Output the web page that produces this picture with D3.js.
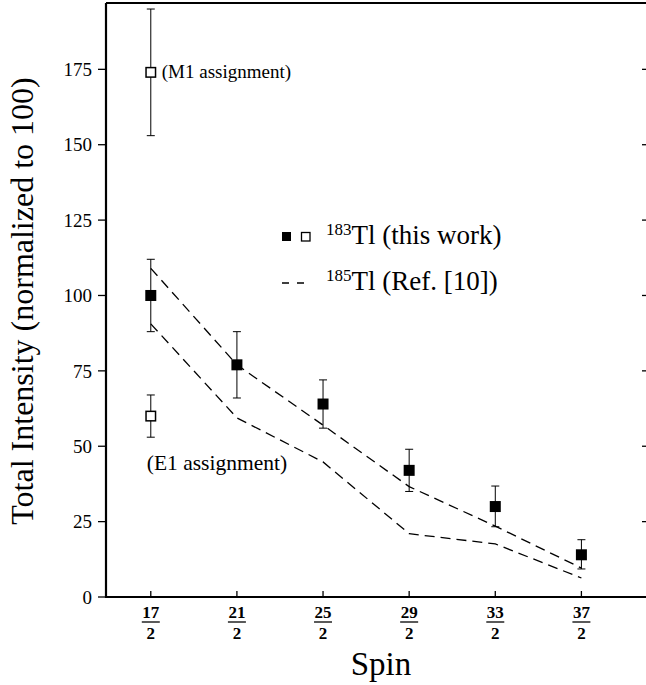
<!DOCTYPE html>
<html>
<head>
<meta charset="utf-8">
<script src="https://cdn.jsdelivr.net/npm/d3@7"></script>
</head>
<body style="margin:0;background:#fff">
<div id="chart"></div>
<script>
"use strict";
const WIDTH = 646;
const HEIGHT = 685;
const MARGIN = { top: 3, right: 0, bottom: 88, left: 106 };

// spin numerators (spin = n / 2)
const SPINS = [17, 21, 25, 29, 33, 37];
const Y_TICKS = [0, 25, 50, 75, 100, 125, 150, 175];

// 183Tl (this work), filled squares
const TL183 = [100, 77, 64, 42, 30, 14];
const TL183_LO = [88, 66, 56, 35, 23.3, 9.3];
const TL183_HI = [112, 88, 72, 49, 36.8, 19];

// open squares at 17/2: M1 and E1 assignments
const OPEN_SPIN = [17, 17];
const OPEN_VAL = [174, 60];
const OPEN_LO = [153, 53];
const OPEN_HI = [195, 67];
const OPEN_LABELS = ["(M1 assignment)", "(E1 assignment)"];

// 185Tl (Ref. [10]) dashed band
const TL185_UPPER = [109, 77, 57, 36.6, 23.5, 9.6];
const TL185_LOWER = [90.6, 59.4, 44.8, 21, 17.6, 6.3];

const svg = d3.select("#chart").append("svg")
    .attr("width", WIDTH)
    .attr("height", HEIGHT)
    .style("font-family", '"Liberation Serif", serif');

const x = d3.scaleLinear()
    .domain([14.92, 40])
    .range([MARGIN.left, WIDTH - MARGIN.right]);

const y = d3.scaleLinear()
    .domain([0, 197])
    .range([HEIGHT - MARGIN.bottom, MARGIN.top]);

const x0 = x.range()[0], x1 = x.range()[1];
const y0 = y.range()[0], y1 = y.range()[1];

// frame
svg.append("path")
    .attr("d", `M${x0},${y1}H${x1}M${x0},${y1}V${y0}H${x1}`)
    .attr("fill", "none")
    .attr("stroke", "#000")
    .attr("stroke-width", 2.2);

// left axis ticks (outward) and labels
const yAxis = svg.append("g");
yAxis.selectAll("line.tl")
    .data(Y_TICKS)
    .enter().append("line")
    .attr("x1", x0 - 8).attr("x2", x0)
    .attr("y1", d => y(d)).attr("y2", d => y(d))
    .attr("stroke", "#000").attr("stroke-width", 1.3);
yAxis.selectAll("line.tr")
    .data(Y_TICKS.filter(d => d > 0))
    .enter().append("line")
    .attr("x1", x1 - 4).attr("x2", x1)
    .attr("y1", d => y(d)).attr("y2", d => y(d))
    .attr("stroke", "#000").attr("stroke-width", 1.3);
yAxis.selectAll("text")
    .data(Y_TICKS)
    .enter().append("text")
    .attr("x", x0 - 14)
    .attr("y", d => y(d))
    .attr("dy", "0.35em")
    .attr("text-anchor", "end")
    .attr("font-size", 19)
    .text(d => d);

// bottom axis ticks (inward) and fraction labels
const xAxis = svg.append("g");
xAxis.selectAll("line")
    .data(SPINS)
    .enter().append("line")
    .attr("x1", d => x(d)).attr("x2", d => x(d))
    .attr("y1", y0 - 6).attr("y2", y0)
    .attr("stroke", "#000").attr("stroke-width", 1.3);
const frac = xAxis.selectAll("g.frac")
    .data(SPINS)
    .enter().append("g")
    .attr("transform", d => `translate(${x(d)},${y0})`);
frac.append("text")
    .attr("y", 21)
    .attr("text-anchor", "middle")
    .attr("font-size", 17)
    .attr("font-weight", "bold")
    .text(d => d);
frac.append("line")
    .attr("x1", -9).attr("x2", 9)
    .attr("y1", 25).attr("y2", 25)
    .attr("stroke", "#000").attr("stroke-width", 1.3);
frac.append("text")
    .attr("y", 42)
    .attr("text-anchor", "middle")
    .attr("font-size", 17)
    .attr("font-weight", "bold")
    .text("2");

// axis titles
svg.append("text")
    .attr("x", 381)
    .attr("y", 675)
    .attr("text-anchor", "middle")
    .attr("font-size", 33)
    .text("Spin");
svg.append("text")
    .attr("transform", `translate(33,301) rotate(-90)`)
    .attr("text-anchor", "middle")
    .attr("font-size", 32)
    .text("Total Intensity (normalized to 100)");

// dashed 185Tl lines
const line = d3.line()
    .x((d, i) => x(SPINS[i]))
    .y(d => y(d));
[TL185_UPPER, TL185_LOWER].forEach(series => {
    svg.append("path")
        .attr("d", line(series))
        .attr("fill", "none")
        .attr("stroke", "#000")
        .attr("stroke-width", 1.3)
        .attr("stroke-dasharray", "10,6");
});

// error bars
function errorBars(spins, lo, hi) {
    const g = svg.append("g").attr("stroke", "#000").attr("stroke-width", 1);
    spins.forEach((s, i) => {
        const cx = x(s);
        g.append("line").attr("x1", cx).attr("x2", cx).attr("y1", y(lo[i])).attr("y2", y(hi[i]));
        g.append("line").attr("x1", cx - 4).attr("x2", cx + 4).attr("y1", y(lo[i])).attr("y2", y(lo[i]));
        g.append("line").attr("x1", cx - 4).attr("x2", cx + 4).attr("y1", y(hi[i])).attr("y2", y(hi[i]));
    });
}
errorBars(SPINS, TL183_LO, TL183_HI);
errorBars(OPEN_SPIN, OPEN_LO, OPEN_HI);

const SQ = 11;
svg.selectAll("rect.filled")
    .data(TL183)
    .enter().append("rect")
    .attr("x", (d, i) => x(SPINS[i]) - SQ / 2)
    .attr("y", d => y(d) - SQ / 2)
    .attr("width", SQ).attr("height", SQ)
    .attr("fill", "#000");
svg.selectAll("rect.open")
    .data(OPEN_VAL)
    .enter().append("rect")
    .attr("x", (d, i) => x(OPEN_SPIN[i]) - (SQ - 1.5) / 2)
    .attr("y", d => y(d) - (SQ - 1.5) / 2)
    .attr("width", SQ - 1.5).attr("height", SQ - 1.5)
    .attr("fill", "#fff")
    .attr("stroke", "#000")
    .attr("stroke-width", 1.5);

// assignment annotations
svg.append("text")
    .attr("x", x(OPEN_SPIN[0]) + 11)
    .attr("y", y(OPEN_VAL[0]) + 6)
    .attr("font-size", 19)
    .text(OPEN_LABELS[0]);
svg.append("text")
    .attr("x", x(OPEN_SPIN[1]) - 4)
    .attr("y", y(OPEN_VAL[1]) + 54)
    .attr("font-size", 21.5)
    .text(OPEN_LABELS[1]);

// legend
const legend = svg.append("g");
legend.append("rect")
    .attr("x", 282).attr("y", 232).attr("width", 9).attr("height", 9)
    .attr("fill", "#000");
legend.append("rect")
    .attr("x", 301.5).attr("y", 232.5).attr("width", 8.5).attr("height", 8.5)
    .attr("fill", "#fff").attr("stroke", "#000").attr("stroke-width", 1.3);
const l1 = legend.append("text").attr("x", 326).attr("y", 244).attr("font-size", 27);
l1.append("tspan").attr("font-size", 17).attr("dy", -9).text("183");
l1.append("tspan").attr("dy", 9).text("Tl (this work)");
legend.append("line")
    .attr("x1", 282).attr("x2", 304).attr("y1", 283).attr("y2", 283)
    .attr("stroke", "#000").attr("stroke-width", 1.3)
    .attr("stroke-dasharray", "7,8");
const l2 = legend.append("text").attr("x", 326).attr("y", 290).attr("font-size", 27);
l2.append("tspan").attr("font-size", 17).attr("dy", -9).text("185");
l2.append("tspan").attr("dy", 9).text("Tl (Ref. [10])");

svg.selectAll("text").style("font-family", '"Liberation Serif", serif');
</script>
</body>
</html>
